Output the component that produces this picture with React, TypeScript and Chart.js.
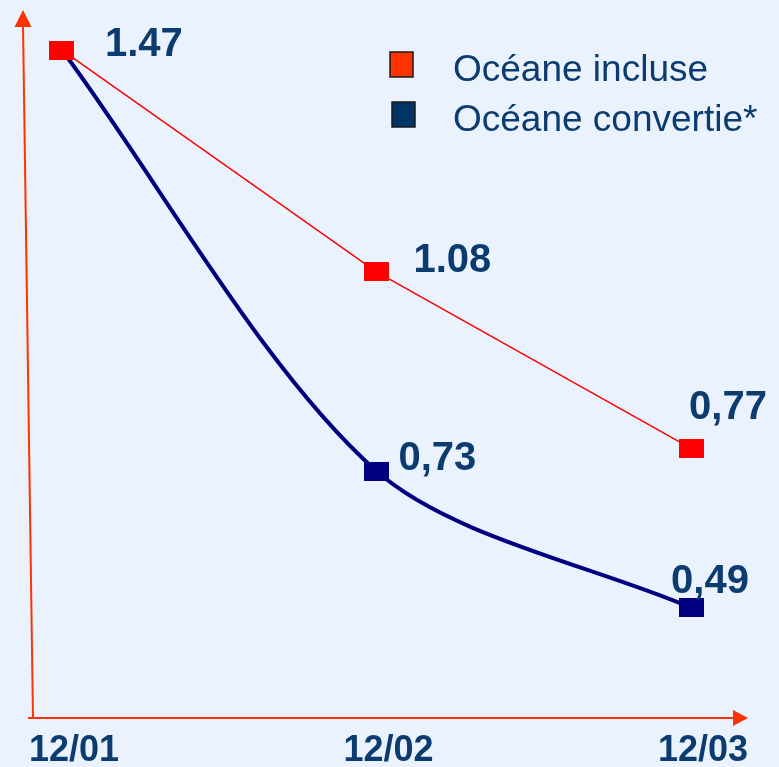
import { useEffect, useRef } from 'react';
import { Chart, registerables } from 'chart.js';

Chart.register(...registerables);

// ---- data ----
const periods = ['12/01', '12/02', '12/03'];
const seriesNames = ['Océane incluse', 'Océane convertie*'];
const incluseValues = [1.47, 1.08, 0.77];
const convertieValues = [1.47, 0.73, 0.49];
// decimal separator used when printing each value (null = value not printed)
const incluseSeparators: (string | null)[] = ['.', '.', ','];
const convertieSeparators: (string | null)[] = [null, ',', ','];

// ---- styling ----
const FONT = "'Liberation Sans', Arial, Helvetica, sans-serif";
const TEXT_NAVY = '#0B3B6F';
const AXIS_RED = '#FF3300';
const LINE_RED = '#FF0000';
const LINE_NAVY = '#000080';
const BACKGROUND = '#EAF3FD';

function squareMarker(color: string, w: number, h: number) {
  const c = document.createElement('canvas');
  c.width = w;
  c.height = h;
  const g = c.getContext('2d')!;
  g.fillStyle = color;
  g.fillRect(0, 0, w, h);
  return c;
}

// Axis lines with arrow heads, drawn under the series
const arrowAxes = {
  id: 'arrowAxes',
  beforeDatasetsDraw(chart: any) {
    const { ctx, chartArea: a } = chart;
    ctx.save();
    ctx.strokeStyle = AXIS_RED;
    ctx.fillStyle = AXIS_RED;
    ctx.lineWidth = 2;
    // horizontal axis
    ctx.beginPath();
    ctx.moveTo(a.left - 5, a.bottom);
    ctx.lineTo(a.right - 12, a.bottom);
    ctx.stroke();
    ctx.beginPath();
    ctx.moveTo(a.right, a.bottom);
    ctx.lineTo(a.right - 15, a.bottom - 8);
    ctx.lineTo(a.right - 15, a.bottom + 8);
    ctx.closePath();
    ctx.fill();
    // vertical axis, leaning slightly left towards its top
    const topX = a.left - 10;
    ctx.beginPath();
    ctx.moveTo(a.left, a.bottom + 1);
    ctx.lineTo(topX, a.top + 14);
    ctx.stroke();
    ctx.beginPath();
    ctx.moveTo(topX, a.top);
    ctx.lineTo(topX - 8.5, a.top + 17);
    ctx.lineTo(topX + 8.5, a.top + 17);
    ctx.closePath();
    ctx.fill();
    ctx.restore();
  },
};

// Value labels next to the markers
const valueLabels = {
  id: 'valueLabels',
  afterDatasetsDraw(chart: any, _args: any, opts: any) {
    const { ctx } = chart;
    ctx.save();
    ctx.font = `bold 40px ${FONT}`;
    ctx.fillStyle = TEXT_NAVY;
    ctx.textAlign = 'left';
    ctx.textBaseline = 'alphabetic';
    chart.data.datasets.forEach((ds: any, di: number) => {
      const meta = chart.getDatasetMeta(di);
      const seps = opts.separators[di];
      const offs = opts.offsets[di];
      meta.data.forEach((pt: any, i: number) => {
        const sep = seps[i];
        if (sep == null) return;
        const text = ds.data[i].y.toFixed(2).replace('.', sep);
        ctx.fillText(text, pt.x + offs[i][0], pt.y + offs[i][1]);
      });
    });
    ctx.restore();
  },
};

// Legend in the upper right corner
const cornerLegend = {
  id: 'cornerLegend',
  afterDraw(chart: any, _args: any, opts: any) {
    const { ctx } = chart;
    const x0 = chart.width - 389;
    ctx.save();
    chart.data.datasets.forEach((ds: any, i: number) => {
      const top = 52 + i * 50;
      const bx = x0 + i * 2;
      ctx.fillStyle = opts.swatches[i];
      ctx.fillRect(bx, top, 23, 25);
      ctx.strokeStyle = '#1A1A1A';
      ctx.lineWidth = 1.5;
      ctx.strokeRect(bx, top, 23, 25);
      ctx.fillStyle = TEXT_NAVY;
      ctx.font = `37px ${FONT}`;
      ctx.textAlign = 'left';
      ctx.textBaseline = 'alphabetic';
      ctx.fillText(ds.label, x0 + 63, top + 29);
    });
    ctx.restore();
  },
};

export default function App() {
  const canvasRef = useRef<HTMLCanvasElement>(null);

  useEffect(() => {
    if (!canvasRef.current) return;
    const redMark = squareMarker(LINE_RED, 25, 19);
    const navyMark = squareMarker(LINE_NAVY, 25, 19);

    const chart = new Chart(canvasRef.current, {
      type: 'line',
      data: {
        datasets: [
          {
            label: seriesNames[0],
            data: incluseValues.map((v, i) => ({ x: i, y: v })),
            borderColor: LINE_RED,
            borderWidth: 1.5,
            pointStyle: redMark as any,
            tension: 0,
          },
          {
            label: seriesNames[1],
            data: convertieValues.map((v, i) => ({ x: i, y: v })),
            borderColor: LINE_NAVY,
            borderWidth: 4,
            pointStyle: navyMark as any,
            tension: 0.3,
          },
        ],
      },
      plugins: [arrowAxes, valueLabels, cornerLegend],
      options: {
        animation: false,
        responsive: true,
        maintainAspectRatio: false,
        layout: { padding: { left: 33, right: 31, top: 10, bottom: 0 } },
        scales: {
          x: {
            type: 'linear',
            min: -0.092,
            max: 2.181,
            grid: { display: false, drawTicks: false },
            border: { display: false },
            afterBuildTicks: (s: any) => {
              s.ticks = periods.map((_, i) => ({ value: i }));
            },
            afterFit: (s: any) => {
              s.height = 49;
            },
            ticks: {
              autoSkip: false,
              maxRotation: 0,
              labelOffset: 12,
              padding: 11,
              color: TEXT_NAVY,
              font: { family: FONT, size: 36, weight: 'bold' },
              callback: (v: any) => periods[v] ?? '',
            },
          },
          y: {
            display: false,
            min: 0.2961,
            max: 1.5404,
          },
        },
        plugins: {
          legend: { display: false },
          tooltip: { enabled: false },
          valueLabels: {
            separators: [incluseSeparators, convertieSeparators],
            offsets: [
              [[43, 6], [37, 0], [-2, -29]],
              [null, [22, -1], [-20, -15]],
            ],
          },
          cornerLegend: { swatches: ['#FF3300', '#003366'] },
        } as any,
      },
    });
    return () => chart.destroy();
  }, []);

  return (
    <div
      style={{
        position: 'absolute',
        left: 0,
        top: 0,
        width: 779,
        height: 767,
        background: BACKGROUND,
      }}
    >
      <canvas ref={canvasRef} />
    </div>
  );
}
